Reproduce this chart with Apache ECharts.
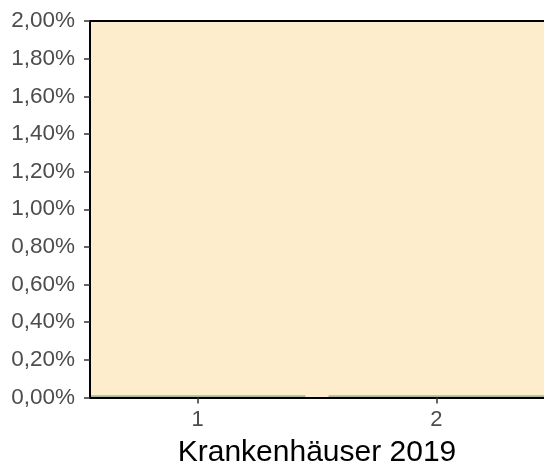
<!DOCTYPE html>
<html>
<head>
<meta charset="utf-8">
<script src="https://cdn.jsdelivr.net/npm/echarts@6/dist/echarts.min.js"></script>
<style>
  html, body { margin: 0; padding: 0; background: #fff; }
  #chart { width: 544px; height: 470px; }
</style>
</head>
<body>
<div id="chart"></div>
<script>
'use strict';

// Daten (Werte in Prozent)
const categories = [1, 2];
const upperValues = [0.012, 0.012];
const lowerValues = [-0.008, -0.008];
const yTicks = [0, 0.2, 0.4, 0.6, 0.8, 1.0, 1.2, 1.4, 1.6, 1.8, 2.0];
const xTitle = 'Krankenhäuser 2019';

const font = '"Liberation Sans", Arial, sans-serif';
const chart = echarts.init(document.getElementById('chart'), null, { renderer: 'canvas' });

const option = {
  animation: false,
  grid: {
    left: 90, right: 0, top: 21, bottom: 72.5,
    outerBoundsMode: 'none',
    containLabel: false,
    show: true, backgroundColor: '#feedcd', borderWidth: 0
  },
  xAxis: {
    type: 'value',
    min: 0.55, max: 2.45,
    z: 5,
    name: xTitle,
    nameLocation: 'middle',
    nameGap: 40,
    nameTextStyle: { color: '#000', fontSize: 30, fontFamily: font, verticalAlign: 'top' },
    axisLine: { show: true, onZero: false, lineStyle: { color: '#000', width: 2 } },
    axisTick: { show: true, length: 6, customValues: categories, lineStyle: { color: '#333', width: 1.5 } },
    axisLabel: { customValues: categories, color: '#4d4d4d', fontSize: 22, fontFamily: font, margin: 11 },
    splitLine: { show: false }
  },
  yAxis: {
    type: 'value',
    min: 0, max: 2, interval: 0.2,
    z: 5,
    axisLine: { show: true, lineStyle: { color: '#000', width: 2 } },
    axisTick: { show: true, length: 6, lineStyle: { color: '#333', width: 1.5 } },
    axisLabel: {
      color: '#4d4d4d', fontSize: 22.5, fontFamily: font, margin: 15,
      formatter: v => v.toFixed(2).replace('.', ',') + '%'
    },
    splitLine: { show: false }
  },
  series: [{
    type: 'bar',
    stack: 'a',
    clip: false,
    barWidth: 216,
    itemStyle: { color: '#a9b993' },
    markLine: {
      silent: true,
      symbol: 'none',
      label: { show: false },
      lineStyle: { color: '#000', width: 2, type: 'solid' },
      data: [{ yAxis: yTicks[yTicks.length - 1] }]
    },
    data: categories.map((c, i) => [c, upperValues[i]])
  }, {
    type: 'bar',
    stack: 'a',
    clip: false,
    barWidth: 216,
    itemStyle: { color: '#3f8a8c' },
    data: categories.map((c, i) => [c, lowerValues[i]])
  }]
};

chart.setOption(option);
</script>
</body>
</html>
